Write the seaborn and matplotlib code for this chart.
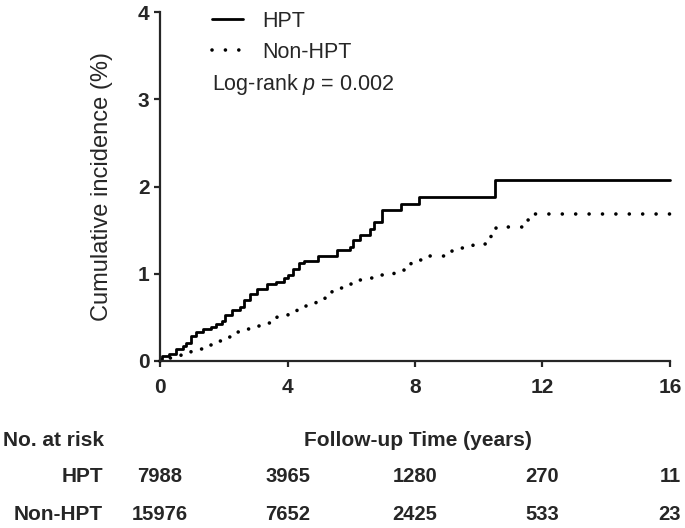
import seaborn as sns
import matplotlib
matplotlib.use('agg')
import matplotlib.pyplot as plt
from matplotlib import transforms

# step curves (years, cumulative incidence %)
hpt_time = [0, 0.07, 0.29, 0.5, 0.71, 0.82, 0.98, 1.14, 1.35, 1.61, 1.77, 1.93, 2.04,
            2.25, 2.51, 2.62, 2.83, 3.05, 3.36, 3.63, 3.89, 4.0, 4.16, 4.37, 4.53,
            4.95, 5.54, 5.96, 6.07, 6.28, 6.6, 6.7, 6.97, 7.55, 8.14, 10.52, 16]
hpt_cum = [0.02, 0.06, 0.085, 0.135, 0.17, 0.21, 0.29, 0.33, 0.37, 0.39, 0.42, 0.46, 0.53,
           0.59, 0.62, 0.70, 0.77, 0.83, 0.88, 0.91, 0.95, 0.98, 1.06, 1.12, 1.15,
           1.20, 1.27, 1.31, 1.39, 1.44, 1.51, 1.59, 1.73, 1.80, 1.88, 2.07, 2.07]

non_time = [0, 0.29, 0.66, 0.98, 1.33, 1.67, 2.0, 2.36, 2.7, 3.05, 3.38, 3.68, 4.0,
            4.29, 4.58, 4.9, 5.19, 5.41, 5.73, 6.0, 6.39, 6.74, 7.05, 7.35, 7.64,
            7.87, 8.17, 8.47, 9.15, 9.48, 9.82, 10.4, 10.53, 11.55, 11.78, 16]
non_cum = [0, 0.03, 0.09, 0.135, 0.185, 0.23, 0.28, 0.33, 0.37, 0.405, 0.44, 0.50, 0.55,
           0.62, 0.66, 0.71, 0.75, 0.84, 0.87, 0.93, 0.95, 0.98, 1.0, 1.03, 1.05,
           1.12, 1.16, 1.20, 1.27, 1.30, 1.34, 1.43, 1.54, 1.62, 1.69, 1.69]

group_names = ['HPT', 'Non-HPT']
risk_times = [0, 4, 8, 12, 16]
risk_hpt = [7988, 3965, 1280, 270, 11]
risk_non = [15976, 7652, 2425, 533, 23]
x_ticks = [0, 4, 8, 12, 16]
y_ticks = [0, 1, 2, 3, 4]

sns.set_style('ticks')
plt.rcParams['font.family'] = ['Liberation Sans', 'DejaVu Sans']
plt.rcParams['mathtext.fontset'] = 'custom'
plt.rcParams['mathtext.rm'] = 'Liberation Sans'
plt.rcParams['mathtext.it'] = 'Liberation Sans:italic'

fig = plt.figure(figsize=(6.85, 5.28), dpi=100)
ax = fig.add_axes([160 / 685, 1 - 361 / 528, 510 / 685, 349 / 528])

sns.lineplot(x=hpt_time, y=hpt_cum, drawstyle='steps-post', color='black', lw=2.0,
             estimator=None, sort=False, ax=ax, label=group_names[0], clip_on=False)
sns.lineplot(x=non_time, y=non_cum, drawstyle='steps-post', color='black', lw=2.6,
             linestyle=(0, (0.01, 3.7)), dash_capstyle='round',
             estimator=None, sort=False, ax=ax, label=group_names[1], clip_on=False)

ax.set_xlim(0, 16)
ax.set_ylim(0, 4)
ax.set_xticks(x_ticks)
ax.set_yticks(y_ticks)
sns.despine(ax=ax)
for side in ['left', 'bottom']:
    ax.spines[side].set_linewidth(1.6)
ax.tick_params(axis='both', length=4.5, width=1.6, labelsize=15)
ax.tick_params(axis='x', pad=7.5)
ax.tick_params(axis='y', pad=3)
for lbl in ax.get_xticklabels() + ax.get_yticklabels():
    lbl.set_fontweight('bold')

ax.set_xlabel('')
ax.set_ylabel('Cumulative incidence (%)', fontsize=17)
ax.yaxis.set_label_coords(-0.092, 0.5)

ax.legend(loc='upper left', bbox_to_anchor=(0.102, 1.003), frameon=False, fontsize=15.5,
          handlelength=1.45, handletextpad=0.9, labelspacing=0.45,
          borderpad=0, borderaxespad=0)
ax.text(0.102, 0.791, r'Log-rank $\it{p}$ = 0.002', transform=ax.transAxes,
        va='center', ha='left', fontsize=15.5)

# number at risk table
trans = transforms.blended_transform_factory(ax.transData, fig.transFigure)
fig.text(0.0044, 1 - 440 / 528, 'No. at risk', ha='left', va='center',
         fontsize=15, fontweight='bold')
ax.text(8.1, 1 - 440 / 528, 'Follow-up Time (years)', transform=trans, ha='center',
        va='center', fontsize=15, fontweight='bold')
for row_y, name, counts in [(1 - 476 / 528, group_names[0], risk_hpt),
                            (1 - 515 / 528, group_names[1], risk_non)]:
    fig.text(103 / 685, row_y, name, ha='right', va='center', fontsize=15,
             fontweight='bold')
    for t, n in zip(risk_times, counts):
        ax.text(t, row_y, str(n), transform=trans, ha='center', va='center',
                fontsize=14.5, fontweight='bold')

fig.savefig('out.png', dpi=100)
plt.close(fig)
